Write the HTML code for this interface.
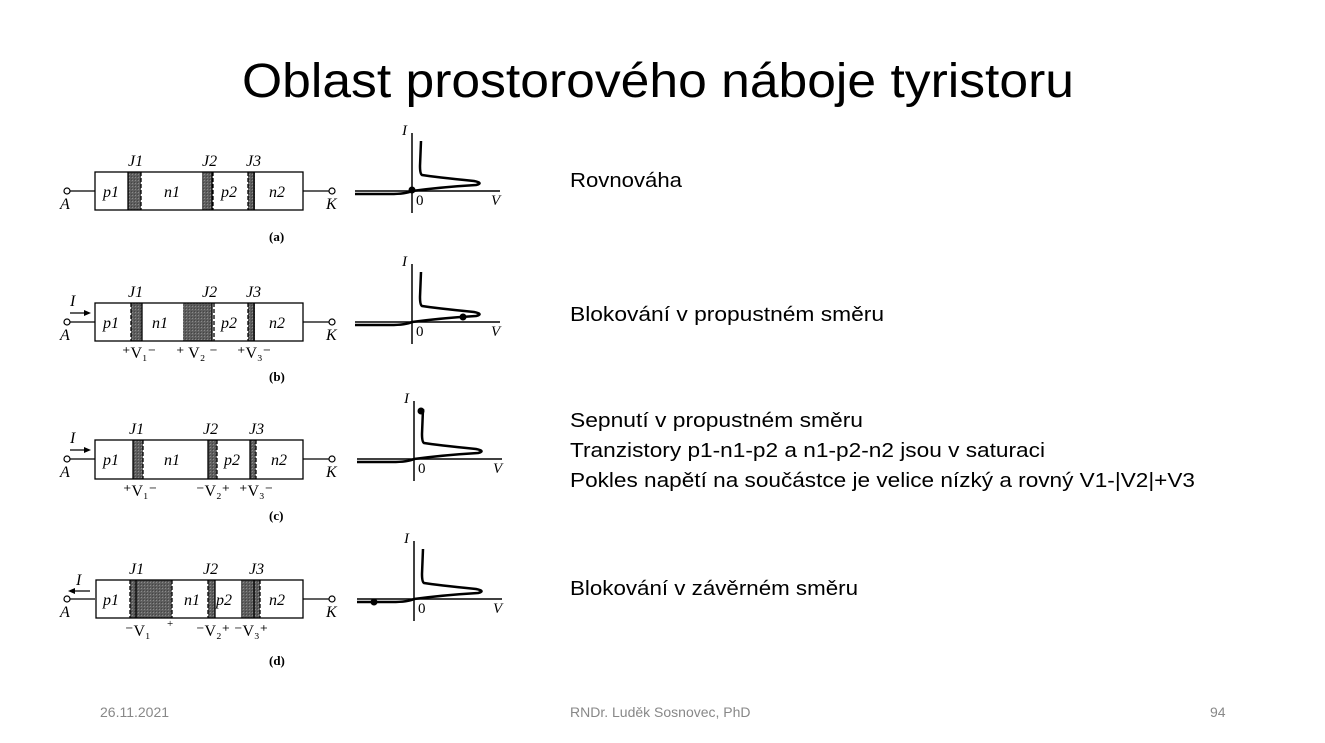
<!DOCTYPE html>
<html><head><meta charset="utf-8"><style>
html,body{margin:0;padding:0;background:#fff;}
svg{display:block;}
</style></head><body>
<svg width="1325" height="743" viewBox="0 0 1325 743" xmlns="http://www.w3.org/2000/svg" font-family="Liberation Sans, sans-serif">
<defs>
<pattern id="sh" width="3" height="3" patternUnits="userSpaceOnUse"><rect width="3" height="3" fill="#5e5e5e"/><rect width="1" height="1" fill="#8a8a8a"/><rect x="2" y="2" width="1" height="1" fill="#444"/></pattern>
<g id="curve">
<line x1="0" y1="-58" x2="0" y2="22" stroke="#000" stroke-width="1.5"/>
<line x1="-57" y1="0" x2="88" y2="0" stroke="#000" stroke-width="1.5"/>
<path d="M-57,3 L-22,3 Q-6,3 0,0 Q30,-4 64,-6 Q72,-8 62,-10 Q22,-14 10,-16 Q8,-17 8,-25 L9,-50" fill="none" stroke="#000" stroke-width="2.5"/>
<text x="4" y="14" font-family="Liberation Serif, serif" font-size="15">0</text>
<text x="79" y="14" font-family="Liberation Serif, serif" font-style="italic" font-size="15">V</text>
<text x="-10" y="-56" font-family="Liberation Serif, serif" font-style="italic" font-size="15">I</text>
</g>
<g id="dev">
<line x1="70" y1="0" x2="95" y2="0" stroke="#000" stroke-width="1.3"/>
<circle cx="67" cy="0" r="3" fill="#fff" stroke="#000" stroke-width="1.2"/>
<line x1="303" y1="0" x2="329" y2="0" stroke="#000" stroke-width="1.3"/>
<circle cx="332" cy="0" r="3" fill="#fff" stroke="#000" stroke-width="1.2"/>
<text x="60" y="18" font-family="Liberation Serif, serif" font-style="italic" font-size="16">A</text>
<text x="326" y="18" font-family="Liberation Serif, serif" font-style="italic" font-size="16">K</text>
</g>
</defs>
<text x="658" y="97" text-anchor="middle" font-size="48" textLength="832" lengthAdjust="spacingAndGlyphs">Oblast prostorového náboje tyristoru</text>

<!-- (a) -->
<g font-family="Liberation Serif, serif" font-size="16" font-style="italic">
<g transform="translate(0,191)"><use href="#dev"/></g>
<rect x="128" y="172" width="13" height="38" fill="url(#sh)"/>
<rect x="202" y="172" width="10" height="38" fill="url(#sh)"/>
<rect x="248" y="172" width="7" height="38" fill="url(#sh)"/>
<rect x="95" y="172" width="208" height="38" fill="none" stroke="#000" stroke-width="1.3"/>
<g stroke="#000" stroke-width="1.3"><line x1="128" y1="172" x2="128" y2="210"/><line x1="141" y1="172" x2="141" y2="210" stroke-dasharray="4,2"/><line x1="212" y1="172" x2="212" y2="210"/><line x1="213" y1="172" x2="213" y2="210" stroke-dasharray="4,2"/><line x1="248" y1="172" x2="248" y2="210" stroke-dasharray="4,2"/><line x1="254" y1="172" x2="254" y2="210"/></g>
<text x="103" y="197">p1</text><text x="164" y="197">n1</text><text x="221" y="197">p2</text><text x="269" y="197">n2</text>
<text x="128" y="166">J1</text><text x="202" y="166">J2</text><text x="246" y="166">J3</text>
<text x="269" y="241" font-style="normal" font-weight="bold" font-size="13">(a)</text>
</g>
<g transform="translate(412,191)"><use href="#curve"/><circle cx="0" cy="-1" r="3.5"/></g>

<!-- (b) -->
<g font-family="Liberation Serif, serif" font-size="16" font-style="italic">
<g transform="translate(0,322)"><use href="#dev"/></g>
<line x1="70" y1="313" x2="88" y2="313" stroke="#000" stroke-width="1.2"/><path d="M91,313 L84,310 L84,316Z"/>
<text x="70" y="306">I</text>
<rect x="131" y="303" width="11" height="38" fill="url(#sh)"/>
<rect x="183" y="303" width="29" height="38" fill="url(#sh)"/>
<rect x="248" y="303" width="7" height="38" fill="url(#sh)"/>
<rect x="95" y="303" width="208" height="38" fill="none" stroke="#000" stroke-width="1.3"/>
<g stroke="#000" stroke-width="1.3"><line x1="131" y1="303" x2="131" y2="341" stroke-dasharray="4,2"/><line x1="142" y1="303" x2="142" y2="341"/><line x1="212" y1="303" x2="212" y2="341"/><line x1="214" y1="303" x2="214" y2="341" stroke-dasharray="4,2"/><line x1="248" y1="303" x2="248" y2="341" stroke-dasharray="4,2"/><line x1="254" y1="303" x2="254" y2="341"/></g>
<text x="103" y="328">p1</text><text x="152" y="328">n1</text><text x="221" y="328">p2</text><text x="269" y="328">n2</text>
<text x="128" y="297">J1</text><text x="202" y="297">J2</text><text x="246" y="297">J3</text>
<g font-size="16" font-style="normal"><text x="122" y="358">⁺V₁⁻</text><text x="176" y="358">⁺  V₂ ⁻</text><text x="237" y="358">⁺V₃⁻</text></g>
<text x="269" y="381" font-style="normal" font-weight="bold" font-size="13">(b)</text>
</g>
<g transform="translate(412,322)"><use href="#curve"/><circle cx="51" cy="-5" r="3.5"/></g>

<!-- (c) -->
<g font-family="Liberation Serif, serif" font-size="16" font-style="italic">
<g transform="translate(0,459)"><use href="#dev"/></g>
<line x1="70" y1="450" x2="88" y2="450" stroke="#000" stroke-width="1.2"/><path d="M91,450 L84,447 L84,453Z"/>
<text x="70" y="443">I</text>
<rect x="133" y="440" width="10" height="39" fill="url(#sh)"/>
<rect x="208" y="440" width="9" height="39" fill="url(#sh)"/>
<rect x="250" y="440" width="6" height="39" fill="url(#sh)"/>
<rect x="95" y="440" width="208" height="39" fill="none" stroke="#000" stroke-width="1.3"/>
<g stroke="#000" stroke-width="1.3"><line x1="133" y1="440" x2="133" y2="479"/><line x1="143" y1="440" x2="143" y2="479" stroke-dasharray="4,2"/><line x1="208" y1="440" x2="208" y2="479"/><line x1="217" y1="440" x2="217" y2="479" stroke-dasharray="4,2"/><line x1="250" y1="440" x2="250" y2="479"/><line x1="256" y1="440" x2="256" y2="479" stroke-dasharray="4,2"/></g>
<text x="103" y="465">p1</text><text x="164" y="465">n1</text><text x="224" y="465">p2</text><text x="271" y="465">n2</text>
<text x="129" y="434">J1</text><text x="203" y="434">J2</text><text x="249" y="434">J3</text>
<g font-size="16" font-style="normal"><text x="123" y="496">⁺V₁⁻</text><text x="196" y="496">⁻V₂⁺</text><text x="239" y="496">⁺V₃⁻</text></g>
<text x="269" y="520" font-style="normal" font-weight="bold" font-size="13">(c)</text>
</g>
<g transform="translate(414,459)"><use href="#curve"/><circle cx="7" cy="-48" r="3.5"/></g>

<!-- (d) -->
<g font-family="Liberation Serif, serif" font-size="16" font-style="italic">
<g transform="translate(0,599)"><use href="#dev"/></g>
<line x1="72" y1="591" x2="90" y2="591" stroke="#000" stroke-width="1.2"/><path d="M68,591 L75,588 L75,594Z"/>
<text x="76" y="585">I</text>
<rect x="130" y="580" width="42" height="38" fill="url(#sh)"/>
<rect x="208" y="580" width="7" height="38" fill="url(#sh)"/>
<rect x="241" y="580" width="19" height="38" fill="url(#sh)"/>
<rect x="96" y="580" width="207" height="38" fill="none" stroke="#000" stroke-width="1.3"/>
<g stroke="#000" stroke-width="1.3"><line x1="130" y1="580" x2="130" y2="618" stroke-dasharray="4,2"/><line x1="136" y1="580" x2="136" y2="618"/><line x1="172" y1="580" x2="172" y2="618" stroke-dasharray="4,2"/><line x1="208" y1="580" x2="208" y2="618" stroke-dasharray="4,2"/><line x1="215" y1="580" x2="215" y2="618"/><line x1="254" y1="580" x2="254" y2="618"/><line x1="260" y1="580" x2="260" y2="618" stroke-dasharray="4,2"/></g>
<text x="103" y="605">p1</text><text x="184" y="605">n1</text><text x="216" y="605">p2</text><text x="269" y="605">n2</text>
<text x="129" y="574">J1</text><text x="203" y="574">J2</text><text x="249" y="574">J3</text>
<g font-size="16" font-style="normal"><text x="125" y="636">⁻V₁</text><text x="167" y="627" font-size="11">+</text><text x="196" y="636">⁻V₂⁺</text><text x="234" y="636">⁻V₃⁺</text></g>
<text x="269" y="665" font-style="normal" font-weight="bold" font-size="13">(d)</text>
</g>
<g transform="translate(414,599)"><use href="#curve"/><circle cx="-40" cy="3" r="3.5"/></g>

<g font-size="20" fill="#000">
<text x="570" y="187" textLength="112" lengthAdjust="spacingAndGlyphs">Rovnováha</text>
<text x="570" y="321" textLength="314" lengthAdjust="spacingAndGlyphs">Blokování v propustném směru</text>
<text x="570" y="427" textLength="293" lengthAdjust="spacingAndGlyphs">Sepnutí v propustném směru</text>
<text x="570" y="457" textLength="475" lengthAdjust="spacingAndGlyphs">Tranzistory p1-n1-p2 a n1-p2-n2 jsou v saturaci</text>
<text x="570" y="487" textLength="625" lengthAdjust="spacingAndGlyphs">Pokles napětí na součástce je velice nízký a rovný V1-|V2|+V3</text>
<text x="570" y="595" textLength="288" lengthAdjust="spacingAndGlyphs">Blokování v závěrném směru</text>
</g>
<g font-size="14" fill="#888">
<text x="100" y="717">26.11.2021</text>
<text x="570" y="717">RNDr. Luděk Sosnovec, PhD</text>
<text x="1210" y="717">94</text>
</g>
</svg>
</body></html>
